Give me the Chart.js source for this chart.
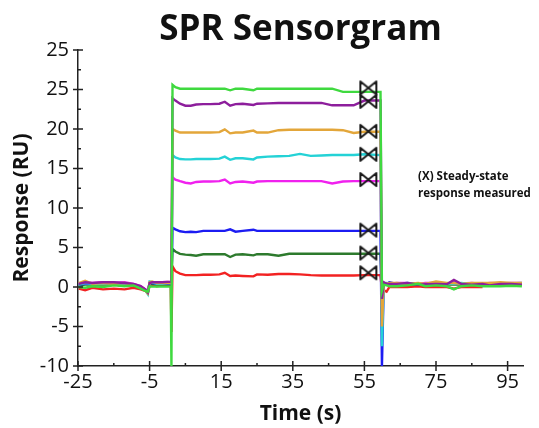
<!DOCTYPE html>
<html>
<head>
<meta charset="utf-8">
<script src="https://cdn.jsdelivr.net/npm/chart.js@4.4.1/dist/chart.umd.min.js"></script>
<style>
  html, body { margin: 0; padding: 0; background: #fff; }
  #wrap { width: 539px; height: 428px; }
</style>
</head>
<body>
<div id="wrap"><canvas id="c" width="539" height="428"></canvas></div>
<script>
// Sample times (s): baseline, injection, association, dissociation
const time = [
  -24.8, -23, -21, -18, -15, -12, -9.5, -7.5, -6.2, -5.5, -5.0, -4.3, -3, -1.5, 0, 0.9,
  1.1, 1.4, 2.2,
  3.5, 5, 6.5, 8, 10, 12, 14.5, 16, 17.5, 19, 21, 24, 25, 28, 31, 34, 37, 40, 43, 46, 49, 52, 55, 59.5,
  59.9, 60.4, 61.2, 62, 64, 67, 70, 72, 75, 78, 80, 82, 85, 88, 90, 93, 96, 99
];

// Response (RU) for each concentration
const greenRU = [
  0.0, -0.1, 0.1, 0.0, 0.2, 0.1, 0.2, -0.2, -0.5, -0.6, 0.1, 0.05, 0.05, 0.05, 0.05, 0.05,
  -10, 25.6, 25.3,
  25.1, 25.1, 25.1, 25.1, 25.1, 25.1, 25.1, 25.1, 24.9, 25.1, 25.1, 24.9, 25.1, 25.1, 25.1, 25.1, 25.1, 25.1, 25.1, 25.1, 24.7, 24.7, 24.7, 24.7,
  -0.5, 0.3, 0.2, 0.1, 0.1, 0.2, 0.4, 0.1, 0.2, 0.1, -0.3, 0.1, 0.2, 0.1, 0.1, 0.1, 0.15, 0.1
];
const purpleRU = [
  0.4, 0.6, 0.5, 0.6, 0.6, 0.5, 0.4, 0.1, -0.3, -0.7, 0.5, 0.6, 0.6, 0.6, 0.65, 0.65,
  0.6, 23.9, 23.6,
  23.2, 22.95, 22.95, 23.1, 23.15, 23.15, 23.2, 23.45, 22.95, 23.15, 23.2, 23.05, 23.2, 23.25, 23.3, 23.3, 23.3, 23.3, 23.3, 23.0, 23.0, 23.0, 23.6, 23.6,
  -1.5, 0.6, 0.4, 0.4, 0.4, 0.5, 0.3, 0.35, 0.4, 0.35, 0.9, 0.4, 0.3, 0.4, 0.2, 0.4, 0.4, 0.3
];
const orangeRU = [
  0.5, 0.8, 0.4, 0.5, 0.4, 0.5, 0.3, 0.0, -0.4, -0.8, 0.6, 0.7, 0.5, 0.5, 0.5, 0.5,
  0.5, 20.0, 19.8,
  19.55, 19.55, 19.55, 19.55, 19.55, 19.55, 19.6, 19.95, 19.45, 19.55, 19.55, 19.8, 19.55, 19.55, 19.85, 19.9, 19.9, 19.9, 19.9, 19.9, 19.85, 19.5, 19.65, 19.65,
  -5.0, 0.5, 0.4, 0.5, 0.5, 0.4, 0.5, 0.4, 0.7, 0.5, 0.5, 0.4, 0.5, 0.5, 0.5, 0.6, 0.5, 0.5
];
const cyanRU = [
  0.3, 0.5, 0.4, 0.4, 0.5, 0.4, 0.3, 0.0, -0.4, -0.9, 0.7, 0.6, 0.4, 0.4, 0.5, 0.5,
  0.5, 16.7, 16.4,
  16.2, 16.15, 16.15, 16.2, 16.2, 16.2, 16.25, 16.5, 16.1, 16.3, 16.3, 16.15, 16.4, 16.5, 16.55, 16.6, 16.85, 16.6, 16.65, 16.7, 16.7, 16.7, 16.8, 16.7,
  -7.5, 0.4, 0.5, 0.4, 0.4, 0.5, 0.4, 0.3, 0.4, 0.4, 0.4, 0.5, 0.4, 0.4, 0.4, 0.4, 0.45, 0.5
];
const magentaRU = [
  0.4, 0.5, 0.5, 0.6, 0.5, 0.6, 0.4, 0.1, -0.3, -0.6, 0.5, 0.6, 0.6, 0.6, 0.65, 0.6,
  0.6, 13.9, 13.6,
  13.4, 13.2, 13.1, 13.3, 13.35, 13.35, 13.4, 13.6, 13.1, 13.3, 13.35, 13.2, 13.35, 13.4, 13.4, 13.4, 13.4, 13.4, 13.4, 13.1, 13.35, 13.4, 13.4, 13.4,
  -2.5, 0.5, 0.4, 0.4, 0.5, 0.5, 0.4, 0.5, 0.5, 0.4, 0.6, 0.45, 0.5, 0.4, 0.5, 0.45, 0.5, 0.5
];
const blueRU = [
  0.3, 0.4, 0.4, 0.5, 0.4, 0.4, 0.3, 0.0, -0.3, -0.7, 0.5, 0.5, 0.4, 0.4, 0.4, 0.4,
  0.4, 7.5, 7.3,
  7.05, 6.95, 7.0, 6.95, 7.1, 7.1, 7.1, 7.1, 7.3, 7.0, 7.1, 7.25, 7.1, 7.1, 7.1, 7.1, 7.1, 7.1, 7.1, 7.1, 7.1, 7.1, 7.1, 7.1,
  -10, 0.4, 0.4, 0.6, 0.4, 0.4, 0.35, 0.3, 0.4, 0.4, 0.4, 0.4, 0.35, 0.4, 0.4, 0.4, 0.4, 0.4
];
const darkGreenRU = [
  0.2, 0.3, 0.3, 0.3, 0.3, 0.2, 0.2, -0.1, -0.4, -0.7, 0.4, 0.4, 0.3, 0.3, 0.3, 0.3,
  0.3, 4.8, 4.5,
  4.2, 4.1, 4.05, 3.95, 4.15, 4.15, 4.15, 4.15, 3.8, 4.1, 4.15, 4.0, 4.15, 4.15, 3.95, 4.2, 4.2, 4.2, 4.2, 4.2, 4.2, 4.2, 4.2, 4.2,
  -1.0, 0.3, 0.3, 0.3, 0.3, 0.3, 0.3, 0.25, 0.3, 0.3, 0.3, 0.3, 0.3, 0.3, 0.3, 0.3, 0.3, 0.3
];
const redRU = [
  -0.2, -0.4, -0.1, -0.3, -0.2, -0.3, -0.1, -0.3, -0.5, -0.8, 0.2, 0.3, 0.1, 0.2, 0.3, 0.2,
  -5.7, 2.6, 2.0,
  1.7, 1.5, 1.5, 1.5, 1.55, 1.55, 1.6, 1.8, 1.4, 1.45, 1.4, 1.35, 1.6, 1.55, 1.65, 1.65, 1.6, 1.5, 1.45, 1.45, 1.45, 1.45, 1.5, 1.5,
  -0.5, -0.4, -0.6, 0.0, 0.0, 0.0, 0.1, 0.0, 0.0, 0.0, -0.2, 0.0, 0.0, 0.0, null, null, null, null
];

// Steady-state responses, read near the end of the injection
const steadyTime = 56.1;
const steadyRU = [25.2, 23.5, 19.7, 16.8, 13.6, 7.2, 4.3, 1.8];

// Axis ticks
const xMajorTicks = [-25, -5, 15, 35, 55, 75, 95];
const xMinorTicks = [-15, 5, 25, 45, 65, 85];
const yMajorTicks = [-10, -5, 0, 5, 10, 15, 20, 25, 30];
const yTickLabels = ['-10', '-5', '0', '5', '10', '15', '20', '25', '25'];
const yMinorTicks = [-7.5, -2.5, 2.5, 7.5, 12.5, 17.5, 22.5, 27.5];

const seriesList = [
  { values: greenRU,     color: '#3fd93f' },
  { values: purpleRU,    color: '#8d1e9c' },
  { values: orangeRU,    color: '#e3a63a' },
  { values: cyanRU,      color: '#24d2d6' },
  { values: magentaRU,   color: '#f021ee' },
  { values: blueRU,      color: '#1c1cf2' },
  { values: darkGreenRU, color: '#2d7a2d' },
  { values: redRU,       color: '#f22222' }
];

// Bow-tie marker for steady-state points
function bowtie() {
  const c = document.createElement('canvas');
  c.width = 20; c.height = 17;
  const g = c.getContext('2d');
  g.strokeStyle = '#1a1a1a';
  g.lineWidth = 2;
  g.lineJoin = 'round';
  g.beginPath();
  g.moveTo(2, 2); g.lineTo(10, 8.5); g.lineTo(2, 15); g.closePath();
  g.moveTo(18, 2); g.lineTo(10, 8.5); g.lineTo(18, 15); g.closePath();
  g.stroke();
  return c;
}

const datasets = seriesList.map(s => ({
  data: time.map((t, i) => ({ x: t, y: s.values[i] })),
  borderColor: s.color,
  borderWidth: 2.4,
  pointRadius: 0,
  showLine: true,
  tension: 0,
  spanGaps: false,
  order: 1
}));
datasets.push({
  data: steadyRU.map(v => ({ x: steadyTime, y: v })),
  showLine: false,
  pointStyle: bowtie(),
  pointRadius: 9,
  order: 0
});

// Cross-style axis ticks and the annotation text
const axisDecor = {
  id: 'axisDecor',
  afterDraw(chart) {
    const ctx = chart.ctx;
    const xs = chart.scales.x, ys = chart.scales.y;
    const xAxisY = ys.getPixelForValue(-10);
    const yAxisX = xs.getPixelForValue(-25);
    ctx.save();
    ctx.strokeStyle = '#222';
    ctx.lineWidth = 1.5;
    ctx.beginPath();
    xMajorTicks.forEach(v => {
      const px = xs.getPixelForValue(v);
      ctx.moveTo(px, xAxisY - 5); ctx.lineTo(px, xAxisY + 5);
    });
    yMajorTicks.forEach(v => {
      const py = ys.getPixelForValue(v);
      ctx.moveTo(yAxisX - 5, py); ctx.lineTo(yAxisX + 5, py);
    });
    ctx.stroke();
    ctx.beginPath();
    xMinorTicks.forEach(v => {
      const px = xs.getPixelForValue(v);
      ctx.moveTo(px, xAxisY - 3); ctx.lineTo(px, xAxisY);
    });
    yMinorTicks.forEach(v => {
      const py = ys.getPixelForValue(v);
      ctx.moveTo(yAxisX, py); ctx.lineTo(yAxisX + 3, py);
    });
    ctx.stroke();

    ctx.fillStyle = '#111';
    ctx.font = 'bold 11.5px "Open Sans"';
    ctx.textBaseline = 'middle';
    ctx.textAlign = 'left';
    const tx = xs.getPixelForValue(70);
    ctx.fillText('(X) Steady-state', tx, ys.getPixelForValue(14.0));
    ctx.fillText('response measured', tx, ys.getPixelForValue(11.8));
    ctx.restore();
  }
};

new Chart(document.getElementById('c'), {
  type: 'scatter',
  data: { datasets },
  plugins: [axisDecor],
  options: {
    responsive: false,
    animation: false,
    layout: { padding: { left: 0, right: 16, top: 0, bottom: 0 } },
    plugins: {
      legend: { display: false },
      tooltip: { enabled: false },
      title: {
        display: true,
        text: 'SPR Sensorgram',
        fullSize: false,
        color: '#111',
        font: { family: 'Open Sans', size: 35, weight: 'bold' },
        padding: { top: 9, bottom: -1 }
      }
    },
    scales: {
      x: {
        type: 'linear',
        min: -25,
        max: 99.3,
        afterBuildTicks: s => { s.ticks = xMajorTicks.map(v => ({ value: v })); },
        afterFit: s => { s.height = 62; },
        grid: { display: false, drawTicks: false },
        border: { display: true, color: '#222', width: 1.5 },
        ticks: {
          color: '#111',
          padding: 4,
          maxRotation: 0,
          font: { family: 'Open Sans', size: 20 }
        },
        title: {
          display: true,
          text: 'Time (s)',
          color: '#111',
          font: { family: 'Open Sans', size: 21, weight: 'bold' },
          padding: { top: 0, bottom: 1 }
        }
      },
      y: {
        type: 'linear',
        min: -10,
        max: 30,
        afterBuildTicks: s => { s.ticks = yMajorTicks.map(v => ({ value: v })); },
        afterFit: s => { s.width = 78; },
        grid: { display: false, drawTicks: false },
        border: { display: true, color: '#222', width: 1.5 },
        ticks: {
          color: '#111',
          padding: 9,
          font: { family: 'Open Sans', size: 20 },
          callback: (v, i) => yTickLabels[i]
        },
        title: {
          display: true,
          text: 'Response (RU)',
          color: '#111',
          font: { family: 'Open Sans', size: 21, weight: 'bold' },
          padding: { top: 9, bottom: 0 }
        }
      }
    }
  }
});
</script>
</body>
</html>
